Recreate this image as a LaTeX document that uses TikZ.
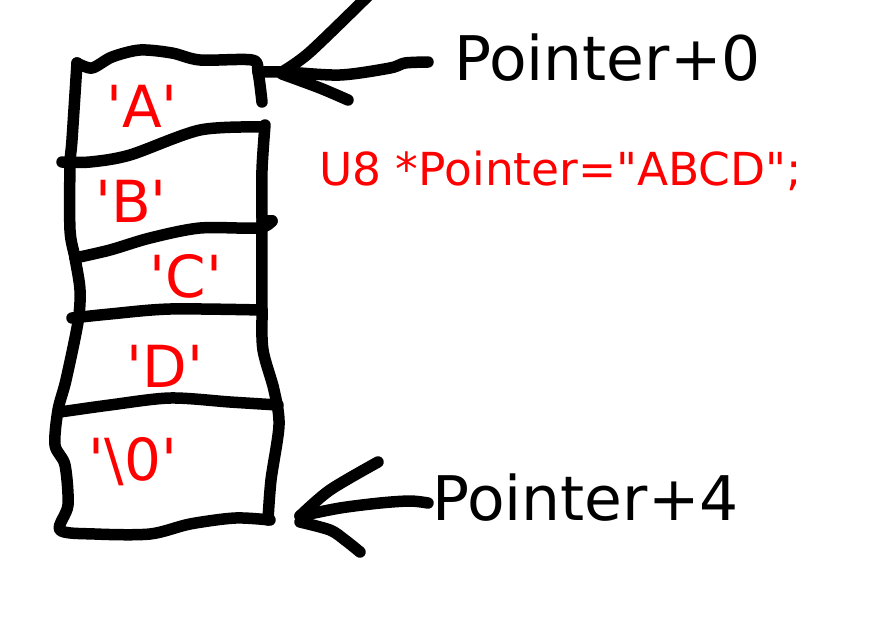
\documentclass[tikz,border=0pt]{standalone}
\usepackage{fontspec}
\setmainfont{DejaVu Sans}
\newcommand\chq{\textquotesingle}

\begin{document}
\begin{tikzpicture}[x=1pt, y=-1pt,
  ink/.style={line width=11.5pt, line cap=round, line join=round},
  cell/.style={text=red, inner sep=0pt, anchor=base, font=\fontsize{58}{60}\selectfont},
  ptr/.style={inner sep=0pt, anchor=base west, font=\fontsize{61.5}{64}\selectfont}]

\useasboundingbox (0,0) rectangle (882,627);

\node[cell] (a)   at (142,127) {\chq A\chq};
\node[cell] (b)   at (131,222) {\chq B\chq};
\node[cell] (c)   at (186,297) {\chq C\chq};
\node[cell] (d)   at (165,387) {\chq D\chq};
\node[cell] (nul) at (133,480) {\chq\textbackslash 0\chq};

\node[ptr] (ptrzero) at (454,80)  {Pointer+0};
\node[ptr] (ptrfour) at (432,520) {Pointer+4};
\node[ptr, text=red, font=\fontsize{45.5}{50}\selectfont] (decl) at (319,185) {U8 *Pointer=\textquotedbl ABCD\textquotedbl;};

\coordinate (tipzero)  at (258,72);
\coordinate (tailzero) at (428,62);
\coordinate (tipfour)  at (300,516);
\coordinate (tailfour) at (428,503);

% the cells
\draw[ink] plot[smooth] coordinates {(77,63) (92,68) (112,57) (140,50) (172,53) (200,60) (252,60) (258,72) (262,102)};
\draw[ink] plot[smooth] coordinates {(265,125) (262,170) (262,222) (262,310) (263,350) (274,390) (279,425) (271,480) (268,520)};
\draw[ink] (262,221) -- (272,221);
\draw[ink] plot[smooth] coordinates {(270,520) (235,518) (190,524) (150,534) (95,534) (60,530) (68,505) (65,465) (55,445) (58,410) (66,380) (78,322) (80,290) (75,258) (70,230) (70,165) (72,140) (77,63)};
\draw[ink] plot[smooth] coordinates {(62,162) (90,162) (130,155) (200,130) (262,127)};
\draw[ink] plot[smooth] coordinates {(75,258) (110,250) (150,238) (200,228) (258,228) (272,221)};
\draw[ink] plot[smooth] coordinates {(72,318) (110,314) (170,309) (262,310)};
\draw[ink] plot[smooth] coordinates {(60,412) (110,405) (170,398) (230,402) (278,405)};

% the two pointers
\draw[ink] plot[smooth] coordinates {(tailzero) (405,63) (390,68) (340,75) (285,72) (tipzero)};
\draw[ink] plot[smooth] coordinates {(282,72) (310,52) (372,-8)};
\draw[ink] plot[smooth] coordinates {(282,74) (320,88) (348,100)};

\draw[ink] plot[smooth] coordinates {(tailfour) (410,501) (380,503) (340,508) (tipfour)};
\draw[ink] plot[smooth] coordinates {(tipfour) (330,490) (378,462)};
\draw[ink] plot[smooth] coordinates {(300,522) (330,530) (345,540) (360,552)};

\end{tikzpicture}
\end{document}
